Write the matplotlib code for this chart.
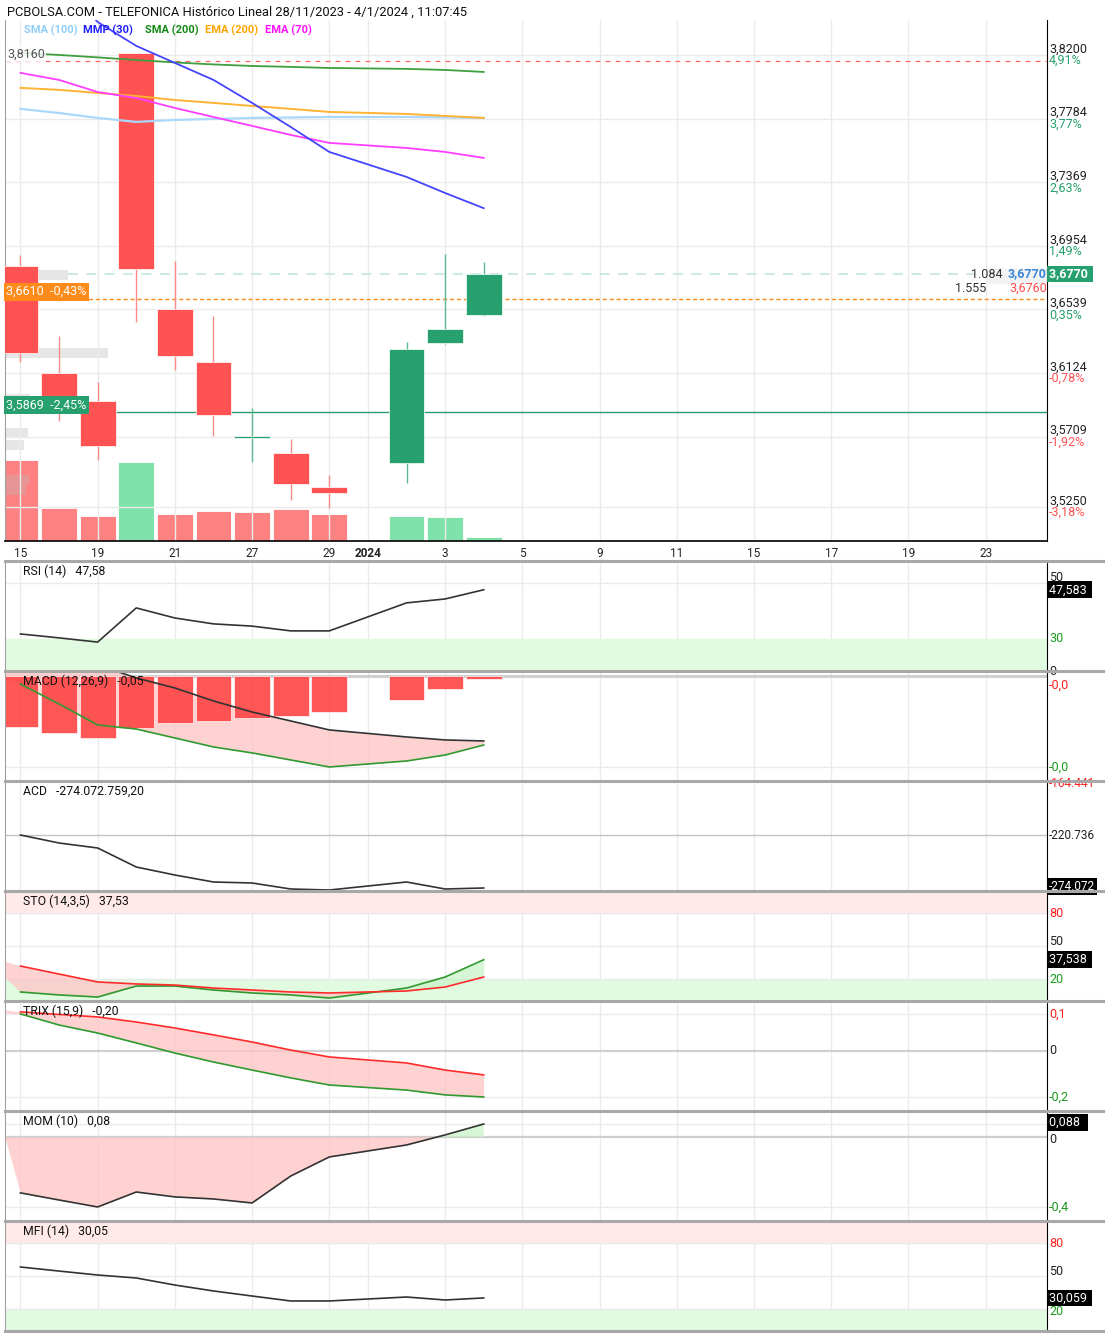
import matplotlib
matplotlib.use('Agg')
import matplotlib.pyplot as plt
from matplotlib.lines import Line2D
import numpy as np
import pandas as pd

plt.rcParams['font.family'] = ['Roboto', 'DejaVu Sans']

W, H = 1105, 1335

# ==============================================================================
# Data (prices in EUR, volume in millions of shares)
# ==============================================================================

dates = ['2023-12-15', '2023-12-18', '2023-12-19', '2023-12-20', '2023-12-21',
         '2023-12-22', '2023-12-27', '2023-12-28', '2023-12-29',
         '2024-01-02', '2024-01-03', '2024-01-04']
opens = [3.6823, 3.6124, 3.5942, 3.8210, 3.6542, 3.6196,
         3.5707, 3.5602, 3.5380, 3.5537, 3.6320, 3.6503]
highs = [3.6895, 3.6366, 3.6066, 3.8210, 3.6855, 3.6496,
         3.5896, 3.5693, 3.5459, 3.6327, 3.6901, 3.6849]
lows = [3.6196, 3.5811, 3.5556, 3.6457, 3.6144, 3.5713,
        3.5543, 3.5295, 3.5243, 3.5406, 3.6314, 3.6496]
closes = [3.6255, 3.5968, 3.5648, 3.6803, 3.6235, 3.5850,
          3.5707, 3.5400, 3.5341, 3.6281, 3.6411, 3.6770]
volumes = [16.2, 6.6, 5.0, 15.8, 5.4, 6.0, 5.8, 6.4, 5.4, 5.0, 4.8, 0.8]
prev_close = 3.6412

# moving averages
sma100 = [3.7848, 3.7821, 3.7789, 3.7763, 3.7776, 3.7782,
          3.7789, 3.7792, 3.7795, 3.7795, 3.7792, 3.7789]
mmp30 = [3.8900, 3.8700, 3.8415, 3.8259, 3.8148, 3.8037,
         3.7887, 3.7730, 3.7567, 3.7404, 3.7299, 3.7200]
sma200 = [3.8213, 3.8200, 3.8184, 3.8167, 3.8151, 3.8138,
          3.8128, 3.8122, 3.8115, 3.8109, 3.8102, 3.8089]
ema200 = [3.7985, 3.7972, 3.7952, 3.7932, 3.7906, 3.7887,
          3.7867, 3.7848, 3.7828, 3.7815, 3.7802, 3.7789]
ema70 = [3.8083, 3.8037, 3.7958, 3.7919, 3.7854, 3.7795,
         3.7737, 3.7678, 3.7626, 3.7593, 3.7567, 3.7528]

# order book depth (price, thousand shares)
book_prices = [3.6764, 3.6255, 3.5955, 3.5733, 3.5654, 3.5426, 3.5361]
book_sizes = [40.8, 66.8, 16.2, 14.9, 12.3, 15.5, 13.6]

# right price scale
price_ticks = [3.8200, 3.7784, 3.7369, 3.6954, 3.6539, 3.6124, 3.5709, 3.5250]
pct_labels = ['4,91%', '3,77%', '2,63%', '1,49%', '0,35%', '-0,78%', '-1,92%', '-3,18%']

# indicators
rsi = [31.8, 30.4, 28.9, 41.1, 37.5, 35.4, 34.6, 32.9, 32.9, 42.9, 44.3, 47.583]
macd = [0.0200, 0.0160, 0.0085, -0.0015, -0.0092, -0.0192,
        -0.0277, -0.0346, -0.0415, -0.0469, -0.0492, -0.0500]
macd_signal = [-0.0062, -0.0215, -0.0377, -0.0408, -0.0477, -0.0546,
               -0.0592, -0.0646, -0.0700, -0.0654, -0.0608, -0.0531]
macd_hist = [-0.0392, -0.0438, -0.0477, -0.0400, -0.0362, -0.0346,
             -0.0323, -0.0308, -0.0277, -0.0185, -0.0100, -0.0023]
acd = [-220.74, -228.79, -233.82, -252.94, -260.99, -268.03,
       -269.04, -275.08, -276.10, -268.03, -275.08, -274.07]  # millions
sto_k = [8.2, 5.5, 3.6, 13.6, 13.6, 10.0, 7.3, 5.5, 2.7, 11.8, 21.8, 37.538]
sto_d = [31.8, 24.5, 17.3, 15.5, 14.5, 11.8, 10.0, 8.2, 7.3, 9.1, 12.7, 21.8]
trix = [0.161, 0.113, 0.078, 0.035, -0.009, -0.048,
        -0.083, -0.117, -0.148, -0.170, -0.191, -0.200]
trix_signal = [0.170, 0.159, 0.148, 0.126, 0.100, 0.070,
               0.039, 0.004, -0.026, -0.052, -0.083, -0.104]
mom = [-0.378, -0.426, -0.473, -0.372, -0.405, -0.419,
       -0.446, -0.264, -0.135, -0.054, 0.014, 0.088]
mfi = [58.2, 54.5, 50.9, 48.2, 41.8, 36.4, 31.8, 27.3, 27.3, 30.9, 28.2, 30.059]

# values of the session before the first candle (only reach the fills)
prev_macd, prev_macd_signal = 0.025, 0.004
prev_sto_k, prev_sto_d = 41.5, 43.0
prev_trix, prev_trix_signal = 0.171, 0.191
prev_mom = 0.55

tick_days = ['2023-12-15', '2023-12-19', '2023-12-21', '2023-12-27', '2023-12-29',
             '2024-01-01', '2024-01-03', '2024-01-05', '2024-01-09', '2024-01-11',
             '2024-01-15', '2024-01-17', '2024-01-19', '2024-01-23']

# ==============================================================================
# Helpers
# ==============================================================================

RED = '#ff5252'
GREEN = '#26a06e'
GRID = '#ebebeb'
PINK_FILL = '#ffc4c4'
GREEN_FILL = '#c9f3c9'
PINK_BAND = '#ffe9e9'
GREEN_BAND = '#e0fbe0'
LINE_DARK = '#333333'
XLIM = (-0.40, 26.59)
RX = 1.0019  # right label column, axes fraction
FS = 9       # right scale font size


def px_rect(x0, y0, x1, y1):
    return [x0 / W, 1 - y1 / H, (x1 - x0) / W, (y1 - y0) / H]


def fmt(v, nd):
    return f'{v:,.{nd}f}'.replace(',', 'X').replace('.', ',').replace('X', '.')


axis_days = pd.bdate_range('2023-12-15', '2024-01-26')
axis_days = axis_days.drop(pd.to_datetime(['2023-12-25', '2023-12-26']))
x = np.array([axis_days.get_loc(pd.Timestamp(d)) for d in dates])
tick_x = [axis_days.get_loc(pd.Timestamp(d)) for d in tick_days]
tick_labels = ['2024' if d.endswith('01-01') else str(int(d[-2:])) for d in tick_days]
x_fill = np.concatenate([[x[0] - 1], x])

o, h, l, c = map(np.array, (opens, highs, lows, closes))

fig = plt.figure(figsize=(W / 100, H / 100), dpi=100)

# ==============================================================================
# Main price chart
# ==============================================================================

ax_vol = fig.add_axes(px_rect(5, 20, 1047, 541))
ax = fig.add_axes(px_rect(5, 20, 1047, 541), sharex=ax_vol)
ax.patch.set_visible(False)

prev_closes = np.concatenate([[prev_close], c[:-1]])
vol_colors = np.where(c >= prev_closes, '#80e2ab', '#ff8282')
ax_vol.bar(x, volumes, width=0.93, color=vol_colors, edgecolor='white', linewidth=0.6)
ax_vol.set_ylim(0, 104)
ax_vol.set_xlim(XLIM)
ax_vol.axis('off')

ax.set_ylim(3.5028, 3.8428)
ax.set_xticks(tick_x)
ax.set_xticklabels(tick_labels, fontsize=8.5)
for lab in ax.get_xticklabels():
    if lab.get_text() == '2024':
        lab.set_fontweight('bold')
ax.tick_params(axis='x', length=0, pad=4, labelcolor='#222222')
ax.set_yticks(price_ticks)
ax.tick_params(axis='y', length=0, labelleft=False)
ax.grid(True, color=GRID, lw=1, zorder=0)
ax.spines['top'].set_visible(False)
ax.spines['left'].set_color('#a0a0a0')
ax.spines['right'].set_color('black')
ax.spines['bottom'].set_color('black')
ax.spines['bottom'].set_linewidth(1.2)

# order book depth bars
ax.barh(book_prices, np.array(book_sizes) / 25.0, left=XLIM[0], height=0.0066,
        color='#b8b8b8', alpha=0.35, zorder=1)

# reference lines
ax.axhline(3.8160, color='#ff6a6a', ls=(0, (4, 4)), lw=0.9, zorder=2)
ax.axhline(3.6610, color='#ff8c1a', ls=(0, (3, 2)), lw=1.0, zorder=2)
ax.axhline(3.5869, color='#2a9d70', lw=1.0, zorder=2)
ax.axhline(3.6770, xmin=0.06, xmax=0.93, color='#c4e6da', ls=(0, (6, 5)), lw=1.2, zorder=2)

# moving averages
ax.plot(x, sma100, color='#aad8fa', lw=1.6, zorder=4)
ax.plot(x, ema200, color='#ffb233', lw=1.4, zorder=4)
ax.plot(x, ema70, color='#ff3dff', lw=1.3, zorder=4)
ax.plot(x, sma200, color='#3f9f3f', lw=1.3, zorder=4)
ax.plot(x, mmp30, color='#4545ff', lw=1.3, zorder=4)

# candles
up = c >= o
cand_colors = np.where(up, GREEN, RED)
wick_colors = np.where(up, '#5fb894', '#ff8a8a')
ax.vlines(x, l, h, colors=wick_colors, lw=1.0, zorder=3)
body_h = np.maximum(np.abs(c - o), 0.0013)
body_lo = np.where(np.abs(c - o) < 0.0013, np.minimum(o, c) - 0.00065, np.minimum(o, c))
ax.bar(x, body_h, bottom=body_lo, width=0.93, color=cand_colors,
       edgecolor='#ffffff', linewidth=0.5, zorder=3)

ytr = ax.get_yaxis_transform()

# right price scale labels
for p, pct in zip(price_ticks, pct_labels):
    ax.annotate(fmt(p, 4), xy=(RX, p), xycoords=ytr, xytext=(0, 4.3),
                textcoords='offset points', va='center', fontsize=FS, color='#222222')
    ax.annotate(pct, xy=(RX, p), xycoords=ytr, xytext=(0, -4.0),
                textcoords='offset points', va='center', fontsize=FS,
                color=GREEN if not pct.startswith('-') else RED)

# last price box and bid / ask
ax.text(RX, closes[-1], fmt(closes[-1], 4) + ' ', transform=ytr, va='center', ha='left',
        fontsize=FS, color='white', fontweight='bold',
        bbox=dict(boxstyle='square,pad=0.15', fc=GREEN, ec='none'))
ax.axhspan(3.6760 - 0.0046, 3.6760 + 0.0046, xmin=0.941, xmax=1.0, color='#f3f3f3', zorder=1)
ax.text(0.9998, 3.6770, '3,6770', transform=ytr, ha='right', va='center',
        fontsize=FS, color='#3a86d8', fontweight='bold', zorder=6)
ax.text(0.9575, 3.6770, '1.084', transform=ytr, ha='right', va='center',
        fontsize=FS, color='#333333', zorder=6)
ax.text(0.9998, 3.6760 - 0.0084, '3,6760', transform=ytr, ha='right', va='center',
        fontsize=FS, color='#ff4a4a', zorder=6)
ax.text(0.9420, 3.6760 - 0.0084, '1.555', transform=ytr, ha='right', va='center',
        fontsize=FS, color='#333333', zorder=6)

# left labels
ax.text(0.002, 3.8160 + 0.0045, '3,8160', transform=ytr, va='center', fontsize=FS,
        color='#555555', zorder=6,
        bbox=dict(boxstyle='square,pad=0.12', fc='white', ec='none', alpha=0.8))
ax.text(0.0012, 3.6610 + 0.0045, '3,6610  -0,43%', transform=ytr, va='center',
        fontsize=FS, color='white', zorder=6,
        bbox=dict(boxstyle='square,pad=0.2', fc='#ff8c1a', ec='none'))
ax.text(0.0012, 3.5869 + 0.0045, '3,5869  -2,45%', transform=ytr, va='center',
        fontsize=FS, color='white', zorder=6,
        bbox=dict(boxstyle='square,pad=0.2', fc=GREEN, ec='none'))

ax.set_xlim(XLIM)

# title and legend
fig.text(7 / W, 1 - 12 / H, 'PCBOLSA.COM - TELEFONICA Histórico Lineal 28/11/2023 - '
         '4/1/2024 , 11:07:45', fontsize=9.3, va='center', color='#111111')
legend = [('SMA (100)', '#8fcdf7', 24), ('MMP (30)', '#2020ff', 83),
          ('SMA (200)', '#138a13', 145), ('EMA (200)', '#ffa500', 205),
          ('EMA (70)', '#ff10ff', 265)]
for txt, col, xp in legend:
    fig.text(xp / W, 1 - 30 / H, txt, fontsize=8, color=col, va='center',
             fontweight='bold')


# ==============================================================================
# Indicator panels
# ==============================================================================

def setup_panel(k, ylim, name):
    top = 561 + 110 * k
    pax = fig.add_axes(px_rect(5, top + 1, 1047, top + 110))
    pax.set_xlim(XLIM)
    pax.set_ylim(ylim)
    for t in tick_x:
        pax.axvline(t, color=GRID, lw=1, zorder=0)
    pax.set_xticks([])
    pax.set_yticks([])
    pax.spines['top'].set_visible(False)
    pax.spines['bottom'].set_visible(False)
    pax.spines['left'].set_color('#a0a0a0')
    pax.spines['right'].set_color('black')
    pax.text(18 / 1042, 1 - 9 / 109, name, transform=pax.transAxes, fontsize=8.8,
             va='center', color='#111111', zorder=8)
    return pax


def rlabel(pax, value, text, color='#222222', box=False, dy=0, fs=FS):
    tr = pax.get_yaxis_transform()
    kw = dict(fontsize=fs, va='center', ha='left', clip_on=False)
    if box:
        pax.annotate(text, xy=(RX, value), xycoords=tr, xytext=(0, dy),
                     textcoords='offset points', color='white',
                     bbox=dict(boxstyle='square,pad=0.15', fc='black', ec='none'),
                     zorder=9, **kw)
    else:
        pax.annotate(text, xy=(RX, value), xycoords=tr, xytext=(0, dy),
                     textcoords='offset points', color=color, zorder=9, **kw)


def hline(pax, v, color=GRID, lw=1.0):
    pax.axhline(v, color=color, lw=lw, zorder=0.5)


def fill_pair(pax, a, b, prev_a, prev_b):
    fa = np.concatenate([[prev_a], a])
    fb = np.concatenate([[prev_b], b])
    pax.fill_between(x_fill, fa, fb, where=fa >= fb, interpolate=True,
                     color=PINK_FILL, alpha=0.75, lw=0, zorder=1)
    pax.fill_between(x_fill, fa, fb, where=fa < fb, interpolate=True,
                     color=GREEN_FILL, alpha=0.75, lw=0, zorder=1)


# RSI
p = setup_panel(0, (18.57, 57.5), 'RSI (14)   47,58')
p.axhspan(0, 30, color=GREEN_BAND, zorder=0.2)
hline(p, 50)
p.plot(x, rsi, color=LINE_DARK, lw=1.2, zorder=3)
rlabel(p, 50, '50', dy=4)
rlabel(p, rsi[-1], fmt(rsi[-1], 3) + ' ', box=True)
rlabel(p, 30, '30', color='#1a9a1a')

# MACD
p = setup_panel(1, (-0.0808, 0.00308), 'MACD (12,26,9)   -0,05')
hline(p, 0, color='#cfcfcf', lw=2.2)
hline(p, min(macd_signal))
fill_pair(p, np.array(macd), np.array(macd_signal), prev_macd, prev_macd_signal)
p.bar(x, macd_hist, width=0.93, color='#ff4444', alpha=0.9, edgecolor='white',
      linewidth=0.5, zorder=2)
p.plot(x, macd, color=LINE_DARK, lw=1.2, zorder=3)
p.plot(x, macd_signal, color='#2f9a2f', lw=1.2, zorder=3)
rlabel(p, 0, '0', dy=3)
rlabel(p, -0.0069, '-0,0', color='#ff2020')
rlabel(p, min(macd_signal), '-0,0', color='#1a9a1a')

# ACD
p = setup_panel(2, (-277.09, -167.40), 'ACD   -274.072.759,20')
hline(p, -220.737, color='#c4c4c4')
p.plot(x, acd, color=LINE_DARK, lw=1.2, zorder=3)
rlabel(p, -168.5, '-164.441', color='#ff2020', fs=8.5)
rlabel(p, -220.737, '-220.736', fs=8.5)
rlabel(p, -274.07, '-274.072', box=True, dy=1, fs=8.5)

# STO
p = setup_panel(3, (0, 99.1), 'STO (14,3,5)   37,53')
p.axhspan(80, 100, color=PINK_BAND, zorder=0.2)
p.axhspan(0, 20, color=GREEN_BAND, zorder=0.2)
for v in (80, 50, 20):
    hline(p, v)
fill_pair(p, np.array(sto_d), np.array(sto_k), prev_sto_d, prev_sto_k)
p.plot(x, sto_k, color='#2f9a2f', lw=1.2, zorder=3)
p.plot(x, sto_d, color='#ff2a2a', lw=1.2, zorder=3)
rlabel(p, 80, '80', color='#ff2020')
rlabel(p, 50, '50', dy=3)
rlabel(p, sto_k[-1], fmt(sto_k[-1], 3) + ' ', box=True)
rlabel(p, 20, '20', color='#1a9a1a')

# TRIX
p = setup_panel(4, (-0.261, 0.213), 'TRIX (15,9)   -0,20')
hline(p, 0.161)
hline(p, 0, color='#cfcfcf', lw=1.6)
hline(p, min(trix))
fill_pair(p, np.array(trix_signal), np.array(trix), prev_trix_signal, prev_trix)
p.plot(x, trix, color='#2f9a2f', lw=1.2, zorder=3)
p.plot(x, trix_signal, color='#ff2a2a', lw=1.2, zorder=3)
rlabel(p, 0.161, '0,1', color='#ff2020')
rlabel(p, 0, '0')
rlabel(p, min(trix), '-0,2', color='#1a9a1a')

# MOM
p = setup_panel(5, (-0.568, 0.169), 'MOM (10)   0,08')
hline(p, mom[-1])
hline(p, 0, color='#cfcfcf', lw=1.6)
hline(p, min(mom))
fill_pair(p, np.zeros(len(mom)), np.array(mom), 0.0, prev_mom)
p.plot(x, mom, color=LINE_DARK, lw=1.2, zorder=3)
rlabel(p, mom[-1], fmt(mom[-1], 3) + '  ', box=True, dy=1)
rlabel(p, 0, '0', dy=-2)
rlabel(p, min(mom), '-0,4', color='#1a9a1a')

# MFI
p = setup_panel(6, (0, 99.1), 'MFI (14)   30,05')
p.axhspan(80, 100, color=PINK_BAND, zorder=0.2)
p.axhspan(0, 20, color=GREEN_BAND, zorder=0.2)
for v in (80, 50, 20):
    hline(p, v)
p.plot(x, mfi, color=LINE_DARK, lw=1.2, zorder=3)
rlabel(p, 80, '80', color='#ff2020')
rlabel(p, 50, '50', dy=3)
rlabel(p, 20, '20', color='#1a9a1a', dy=-2)
rlabel(p, mfi[-1], fmt(mfi[-1], 3) + ' ', box=True)

# panel separators
for yp in [561, 671, 781, 891, 1001, 1111, 1221, 1331]:
    fig.add_artist(Line2D([5 / W, 1.0], [1 - yp / H] * 2, color='#a8a8a8', lw=2.2,
                          zorder=10))

fig.savefig('out.png', dpi=100, facecolor='white')
